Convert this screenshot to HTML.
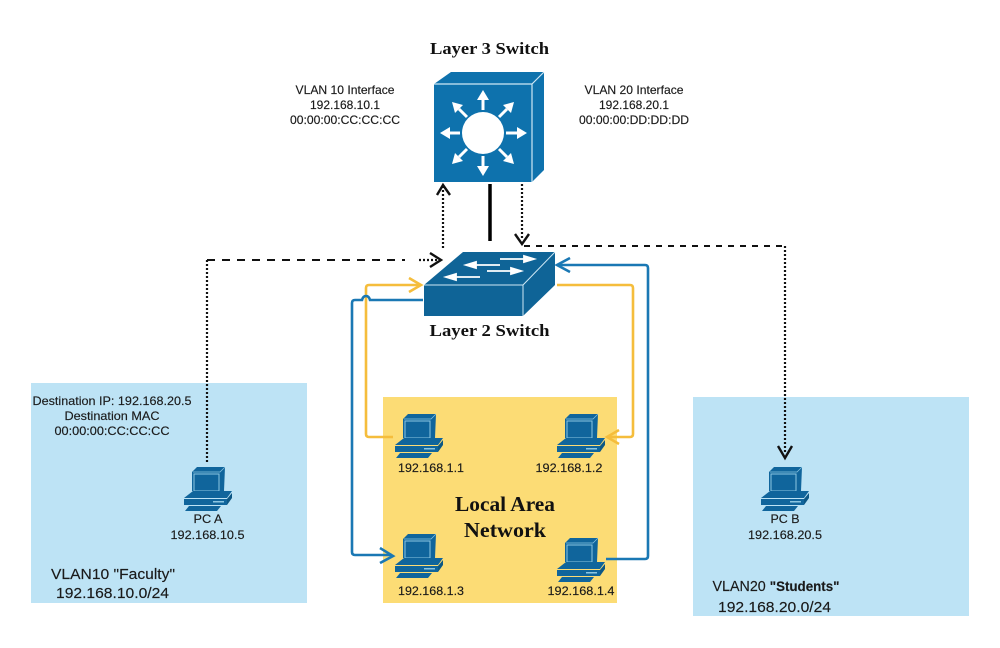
<!DOCTYPE html>
<html><head><meta charset="utf-8"><style>
html,body{margin:0;padding:0;background:#fff}
svg{display:block}
text{font-family:"Liberation Sans",sans-serif;fill:#1a1a1a;stroke:#1a1a1a;stroke-width:.15}
.h{font-family:"Liberation Serif",serif;font-weight:bold;fill:#111;stroke:none}
</style></head><body>
<svg width="1000" height="648" viewBox="0 0 1000 648" xmlns="http://www.w3.org/2000/svg">
<defs>
<g id="pc">
<path d="M8 5L13 0H41L40 24H8Z" fill="#10659c"/>
<path d="M10 7H35V24H10Z" fill="#10659c" stroke="#8cc6e2" stroke-width="1"/>
<path d="M9 5H36L41 0" fill="none" stroke="#8cc6e2" stroke-width=".7"/>
<path d="M0 31L9 24H48L43 31Z" fill="#10659c"/>
<path d="M0 32H43V38H0Z" fill="#10659c"/>
<path d="M43 32L48 26V31L43 38Z" fill="#0c5785"/>
<rect x="29" y="34" width="11" height="1.500" fill="#8cc6e2"/>
<path d="M5 39H37L33 44H1Z" fill="#10659c"/>
</g>
</defs>

<rect x="31" y="383" width="276" height="220" fill="#bde3f5"/>
<rect x="383" y="397" width="234" height="206" fill="#fcdc75"/>
<rect x="693" y="397" width="276" height="219" fill="#bde3f5"/>

<!-- Layer 3 switch -->
<path d="M434 84L451 72H544L532 84Z" fill="#0e72ad"/>
<path d="M532 84L544 72V170L532 182Z" fill="#0e72ad"/>
<rect x="434" y="84" width="98" height="98" fill="#0e72ad"/>
<path d="M434 84H532V182M532 84L544 72" fill="none" stroke="#cfe8f5" stroke-width="1.200"/>
<circle cx="483" cy="133" r="21" fill="#fff"/>
<g stroke="#fff" stroke-width="3" fill="none">
<path d="M483 110V98"/><path d="M483 156V168"/><path d="M460 133H448"/><path d="M506 133H518"/>
<path d="M467 117L459 109"/><path d="M499 117L507 109"/><path d="M467 149L459 157"/><path d="M499 149L507 157"/>
</g>
<g fill="#fff">
<path d="M483 90L477 100H489Z"/><path d="M483 176L477 166H489Z"/>
<path d="M440 133L450 127V139Z"/><path d="M527 133L517 127V139Z"/>
<path d="M452 102L455 113L463 105Z"/><path d="M514 102L503 105L511 113Z"/>
<path d="M452 164L463 161L455 153Z"/><path d="M514 164L511 153L503 161Z"/>
</g>

<!-- Layer 2 switch -->
<path d="M424 285L463 252H555L523 285Z" fill="#0f6497"/>
<path d="M523 285L555 252V285L523 316Z" fill="#0f6497"/>
<rect x="424" y="285" width="99" height="31" fill="#0f6497"/>
<path d="M424 285H523V316M523 285L555 252" fill="none" stroke="#cfe8f5" stroke-width="1"/>
<g stroke="#fff" stroke-width="1.800" fill="#fff">
<path d="M500 259H526"/><path d="M534 259L524 256V262Z"/>
<path d="M500 265H472"/><path d="M466 265L476 262V268Z"/>
<path d="M487 271H514"/><path d="M521 271L511 268V274Z"/>
<path d="M480 277H452"/><path d="M446 277L456 274V280Z"/>
</g>

<!-- connectors: black -->
<path d="M490 184V241" stroke="#000" stroke-width="3.500" fill="none"/>
<g fill="none" stroke="#111">
<path d="M443 186V248" stroke-width="2.200" stroke-dasharray="2 2"/>
<path d="M437 195L443 185L450 195" stroke-width="2.400"/>
<path d="M522 184V240" stroke-width="2.200" stroke-dasharray="2 2"/>
<path d="M515 234L522 244L529 234" stroke-width="2.400"/>
<path d="M524 246H785" stroke-width="2" stroke-dasharray="6 6"/>
<path d="M785 246V454" stroke-width="2.200" stroke-dasharray="2 2"/>
<path d="M778 446L785 458L792 446" stroke-width="2.400"/>
<path d="M207 462V260" stroke-width="2.200" stroke-dasharray="2 2"/>
<path d="M207 260H405" stroke-width="2" stroke-dasharray="8 7"/>
<path d="M419 260H440" stroke-width="2.200" stroke-dasharray="2 2"/>
<path d="M430 253L441 260L430 267" stroke-width="2.400"/>
</g>

<!-- yellow -->
<g fill="none" stroke="#f5bd3c" stroke-width="2.600">
<path d="M393 437H369Q366 437 366 434V288Q366 285 369 285H420"/>
<path d="M409 278L421 285L409 292"/>
<path d="M557 285H630Q633 285 633 288V434Q633 437 630 437H608"/>
<path d="M619 430L607 437L619 444"/>
</g>
<!-- blue -->
<g fill="none" stroke="#1a78b4" stroke-width="2.600">
<path d="M423 300H370Q369 296 366 296Q363 296 362 300H355Q352 300 352 303V552Q352 555 355 555H392"/>
<path d="M380 548L393 556L380 563"/>
<path d="M606 559H645Q648 559 648 556V268Q648 265 645 265H558"/>
<path d="M570 258L557 265L570 272"/>
</g>

<!-- PCs -->
<use href="#pc" x="395" y="414"/>
<use href="#pc" x="557" y="414"/>
<use href="#pc" x="395" y="534"/>
<use href="#pc" x="557" y="538"/>
<use href="#pc" x="184" y="467"/>
<use href="#pc" x="761" y="467"/>

<!-- labels -->
<g text-anchor="middle">
<text class="h" x="489.500" y="54" font-size="17" textLength="119" lengthAdjust="spacingAndGlyphs">Layer 3 Switch</text>
<text class="h" x="489.500" y="336" font-size="17" textLength="120" lengthAdjust="spacingAndGlyphs">Layer 2 Switch</text>
<text class="h" x="505" y="511" font-size="21" textLength="100" lengthAdjust="spacingAndGlyphs">Local Area</text>
<text class="h" x="505" y="537" font-size="21" textLength="82" lengthAdjust="spacingAndGlyphs">Network</text>

<g font-size="12">
<text x="345" y="94" textLength="99" lengthAdjust="spacingAndGlyphs">VLAN 10 Interface</text>
<text x="345" y="109" textLength="70" lengthAdjust="spacingAndGlyphs">192.168.10.1</text>
<text x="345" y="124" textLength="110" lengthAdjust="spacingAndGlyphs">00:00:00:CC:CC:CC</text>
<text x="634" y="94" textLength="99" lengthAdjust="spacingAndGlyphs">VLAN 20 Interface</text>
<text x="634" y="109" textLength="70" lengthAdjust="spacingAndGlyphs">192.168.20.1</text>
<text x="634" y="124" textLength="110" lengthAdjust="spacingAndGlyphs">00:00:00:DD:DD:DD</text>
<text x="112" y="405" textLength="159" lengthAdjust="spacingAndGlyphs">Destination IP: 192.168.20.5</text>
<text x="112" y="420" textLength="95" lengthAdjust="spacingAndGlyphs">Destination MAC</text>
<text x="112" y="435" textLength="115" lengthAdjust="spacingAndGlyphs">00:00:00:CC:CC:CC</text>
<text x="208" y="523" textLength="29" lengthAdjust="spacingAndGlyphs">PC A</text>
<text x="207.500" y="539" textLength="74" lengthAdjust="spacingAndGlyphs">192.168.10.5</text>
<text x="785" y="523" textLength="29" lengthAdjust="spacingAndGlyphs">PC B</text>
<text x="785" y="539" textLength="74" lengthAdjust="spacingAndGlyphs">192.168.20.5</text>
<text x="431" y="472" textLength="66" lengthAdjust="spacingAndGlyphs">192.168.1.1</text>
<text x="569" y="472" textLength="67" lengthAdjust="spacingAndGlyphs">192.168.1.2</text>
<text x="431" y="595" textLength="66" lengthAdjust="spacingAndGlyphs">192.168.1.3</text>
<text x="581" y="595" textLength="67" lengthAdjust="spacingAndGlyphs">192.168.1.4</text>
</g>
<g font-size="15">
<text x="113" y="579" textLength="124" lengthAdjust="spacingAndGlyphs">VLAN10 "Faculty"</text>
<text x="112.500" y="598" textLength="113" lengthAdjust="spacingAndGlyphs">192.168.10.0/24</text>
<text x="776" y="591" textLength="127" lengthAdjust="spacingAndGlyphs">VLAN20 <tspan font-weight="bold" font-size="14">"Students"</tspan></text>
<text x="774.500" y="612" textLength="113" lengthAdjust="spacingAndGlyphs">192.168.20.0/24</text>
</g>
</g>
</svg>
</body></html>
